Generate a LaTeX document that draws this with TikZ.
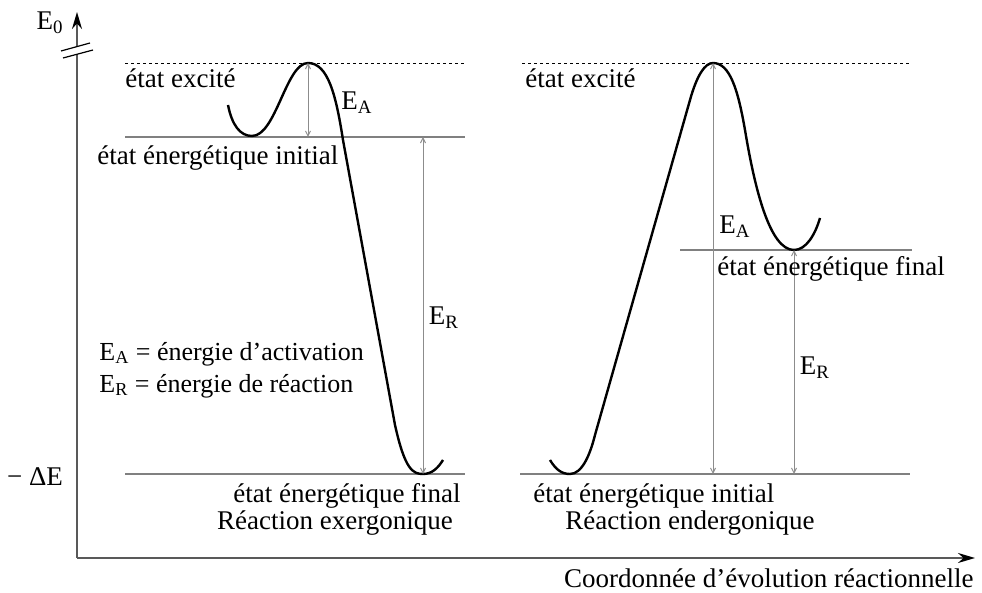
\documentclass[tikz,border=0pt]{standalone}
\usepackage{fontspec}
\setmainfont{Liberation Serif}
\usetikzlibrary{arrows.meta}
\usepackage{tkz-euclide}
\definecolor{AxisClr}{gray}{0.35}
\definecolor{LevelClr}{gray}{0.5}
\definecolor{GapClr}{gray}{0.55}
\newcommand{\Esub}[1]{E\textsubscript{#1}}

\begin{document}
\begin{tikzpicture}[x=0.5pt,y=-0.5pt,
  every node/.style={font=\fontsize{13.5}{16}\selectfont,inner sep=0pt},
  axis/.style={AxisClr,line width=1pt,-{Stealth[length=8.5pt,width=5pt,black]}},
  level/.style={LevelClr,line width=0.7pt},
  excited/.style={black,line width=0.4pt,dash pattern=on 1.5pt off 1.5pt},
  gap/.style={GapClr,line width=0.5pt,{Straight Barb[length=2.5pt,width=2.5pt]}-{Straight Barb[length=2.5pt,width=2.5pt]}},
  curve/.style={black,line width=1.2pt},
  legend/.style={anchor=west,font=\fontsize{13}{16}\selectfont}]
\useasboundingbox (0,0) rectangle (982,593);

% axes
\tkzDefPoints{77/558/O,77/12/Y,975/558/X}
\draw[axis] (O) -- (Y);
\draw[axis] (O) -- (X);
\fill[white] (61,51) -- (90,43) -- (93,50) -- (63,58) -- cycle;
\draw[black,line width=0.6pt] (61,51) -- (90,43) (63,58) -- (93,50);
\node (E0) at (50,23) {\Esub{0}};
\node (dE) at (35,477) {− ΔE};
\node[anchor=east] (xlab) at (974,578) {Coordonnée d’évolution réactionnelle};

% exergonique
\tkzDefPoints{125/63/A1,465/63/A2,125/137/B1,465/137/B2,125/474/C1,465/474/C2}
\tkzDefPoints{308/63/Pa,308/137/Qa,423/137/Pr,423/474/Qr}
\draw[excited] (A1) -- (A2);
\draw[level] (B1) -- (B2);
\draw[level] (C1) -- (C2);
\draw[curve] (228,105) .. controls (232,125) and (240,136) .. (252,136)
  .. controls (276,136) and (286,63) .. (Pa)
  .. controls (328,63) and (336,95) .. (343,140) -- (395,425)
  .. controls (405,470) and (413,474) .. (Qr)
  .. controls (432,474) and (438,468) .. (443,460);
\draw[gap] (Pa) -- (Qa);
\draw[gap] (Pr) -- (Qr);
\node[anchor=west] (exL) at (125,78) {état excité};
\node (eaL) at (357,103) {\Esub{A}};
\node[anchor=west] (iniL) at (97,158) {état énergétique initial};
\node (erL) at (444,318) {\Esub{R}};
\node[legend] (defA) at (99,354) {\Esub{A} = énergie d’activation};
\node[legend] (defR) at (99,386) {\Esub{R} = énergie de réaction};
\node (finL) at (347,496) {état énergétique final};
\node (exo) at (335,523) {Réaction exergonique};

% endergonique
\tkzDefPoints{522/63/D1,910/63/D2,680/250/F1,912/250/F2,520/474/G1,910/474/G2}
\tkzDefPoints{713/63/Pb,713/474/Qb,794/250/Ps,794/474/Qs}
\draw[excited] (D1) -- (D2);
\draw[level] (F1) -- (F2);
\draw[level] (G1) -- (G2);
\draw[curve] (550,460) .. controls (556,470) and (562,474) .. (570,474)
  .. controls (582,474) and (590,455) .. (595,435) -- (690,100)
  .. controls (697,75) and (705,63) .. (Pb)
  .. controls (730,63) and (738,90) .. (745,130)
  .. controls (755,190) and (770,250) .. (Ps)
  .. controls (806,250) and (815,235) .. (820,218);
\draw[gap] (Pb) -- (Qb);
\draw[gap] (Ps) -- (Qs);
\node[anchor=west] (exR) at (525,78) {état excité};
\node (eaR) at (735,227) {\Esub{A}};
\node[anchor=west] (finR) at (717,269) {état énergétique final};
\node (erR) at (815,368) {\Esub{R}};
\node[anchor=west] (iniR) at (533,496) {état énergétique initial};
\node[anchor=west] (endo) at (565,523) {Réaction endergonique};
\end{tikzpicture}
\end{document}
